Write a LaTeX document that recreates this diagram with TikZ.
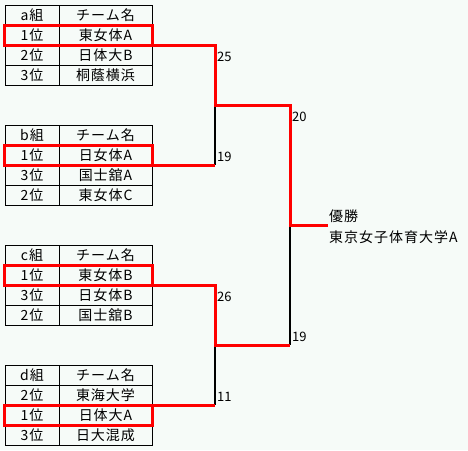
\documentclass[tikz,border=0pt]{standalone}
\usepackage{fontspec}
\setmainfont{Noto Sans CJK JP}
\definecolor{bg}{RGB}{246,251,248}
\definecolor{winred}{RGB}{255,0,0}
\begin{document}
\begin{tikzpicture}[x=1pt,y=-1pt,
  tbl/.style={draw=black,line width=1pt},
  cell/.style={inner sep=0pt,font=\fontsize{14}{16}\selectfont\addfontfeature{LetterSpace=7}},
  redbox/.style={draw=winred,line width=3pt,minimum width=148pt,minimum height=20pt,inner sep=0pt,outer sep=0pt},
  win/.style={draw=winred,line width=3pt},
  lose/.style={draw=black,line width=2pt},
  score/.style={anchor=west,inner sep=0pt,font=\fontsize{13}{15}\selectfont}]
\fill[bg] (0,0) rectangle (468,450);
\useasboundingbox (0,0) rectangle (468,450);
% tables
\foreach \T/\g/\ra/\na/\rb/\nb/\rc/\nc in {
  5/a組/1位/東女体A/2位/日体大B/3位/桐蔭横浜,
  125/b組/1位/日女体A/3位/国士舘A/2位/東女体C,
  245/c組/1位/東女体B/3位/日女体B/2位/国士舘B,
  365/d組/2位/東海大学/1位/日体大A/3位/日大混成}{
  \draw[tbl] (5,\T) rectangle (152,\T+80);
  \foreach \k in {1,2,3} \draw[tbl] (5,\T+20*\k) -- (152,\T+20*\k);
  \draw[tbl] (59,\T) -- (59,\T+80);
  \node[cell] at (32,\T+10) {\g};
  \node[cell] at (105.5,\T+10) {チーム名};
  \node[cell] at (32,\T+30) {\ra};
  \node[cell] at (105.5,\T+30) {\na};
  \node[cell] at (32,\T+50) {\rb};
  \node[cell] at (105.5,\T+50) {\nb};
  \node[cell] at (32,\T+70) {\rc};
  \node[cell] at (105.5,\T+70) {\nc};
}
% winner boxes
\node[redbox] (ra) at (78.5,35) {};
\node[redbox] (rb) at (78.5,155) {};
\node[redbox] (rc) at (78.5,275) {};
\node[redbox] (rd) at (78.5,415) {};
% bracket points
\coordinate (m1) at (215,105);
\coordinate (m2) at (215,345);
\coordinate (f) at (290,225);
\coordinate (fend) at (328,225);
% losing segments
\draw[lose] (m1 |- rb.south east) -- (m1);
\draw[lose] (m2 |- rd.north east) -- (m2);
\draw[lose] (f |- m2) -- (f);
% winning path segments
\draw[win] (ra.south east) -| (m1) -- (f |- m1) -- (f) -- (fend);
\draw[win] (rb.south east) -- (m1 |- rb.south east);
\draw[win] (rc.south east) -| (m2) -- (f |- m2);
\draw[win] (rd.north east) -- (m2 |- rd.north east);
% scores
\node[score] (s1) at (217,57) {25};
\node[score] (s2) at (217,157) {19};
\node[score] (s3) at (217,297) {26};
\node[score] (s4) at (217,397) {11};
\node[score] (s5) at (292,117) {20};
\node[score] (s6) at (292,337) {19};
% champion
\node[score,font=\fontsize{14}{16}\selectfont\addfontfeature{LetterSpace=7}] (champ) at (329,216) {優勝};
\node[score,font=\fontsize{14}{16}\selectfont\addfontfeature{LetterSpace=7}] (champname) at (329,237) {東京女子体育大学A};
\end{tikzpicture}
\end{document}
